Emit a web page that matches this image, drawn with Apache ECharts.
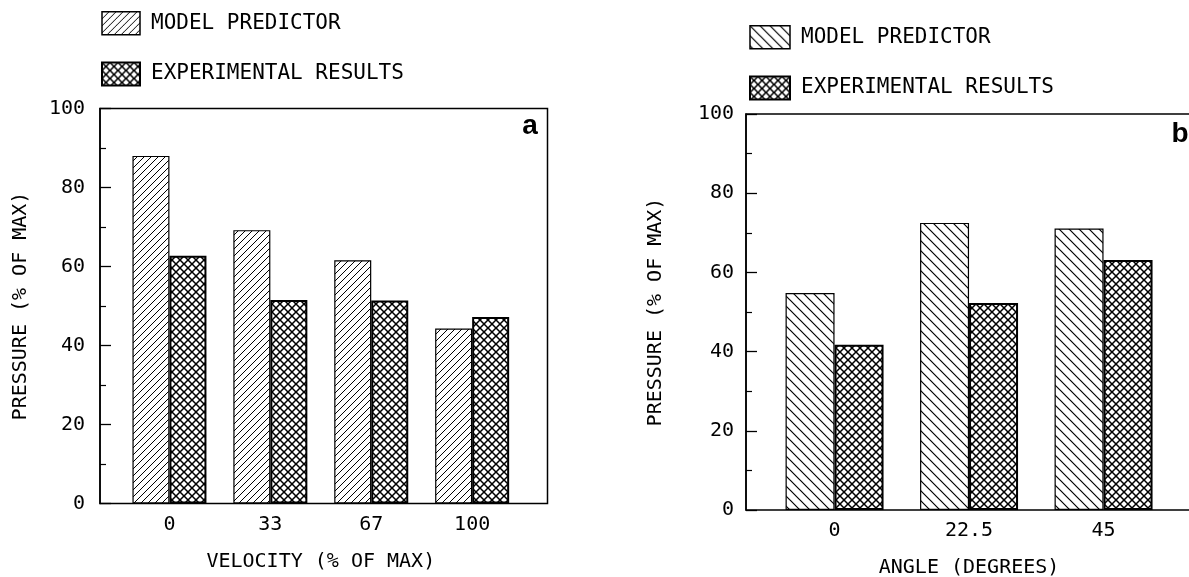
<!DOCTYPE html>
<html>
<head>
<meta charset="utf-8">
<script src="https://cdn.jsdelivr.net/npm/echarts@6.0.0/dist/echarts.min.js"></script>
<style>
html,body{margin:0;padding:0;background:#fff;}
#chart{width:1189px;height:577px;}
</style>
</head>
<body>
<div id="chart"></div>
<script>
// ---- data ----
const seriesNames = ['MODEL PREDICTOR', 'EXPERIMENTAL RESULTS'];
const categoriesA = ['0', '33', '67', '100'];
const modelA = [88.0, 69.2, 61.6, 44.3];
const expA = [62.7, 51.5, 51.4, 47.2];
const categoriesB = ['0', '22.5', '45'];
const modelB = [54.8, 72.5, 71.1];
const expB = [41.7, 52.3, 63.1];
const yMin = 0, yMax = 100, yStep = 20;
const xTitleA = 'VELOCITY (% OF MAX)';
const xTitleB = 'ANGLE (DEGREES)';
const yTitle = 'PRESSURE (% OF MAX)';
const panelLabels = ['a', 'b'];

// ---- hatch patterns ----
function hatch(size, dirs, lw) {
  const c = document.createElement('canvas');
  c.width = size; c.height = size;
  const g = c.getContext('2d');
  g.fillStyle = '#fff'; g.fillRect(0, 0, size, size);
  g.strokeStyle = '#000'; g.lineWidth = lw; g.lineCap = 'square';
  dirs.forEach(function (d) {
    g.beginPath();
    if (d === '/') {
      g.moveTo(-1, size + 1); g.lineTo(size + 1, -1);
      g.moveTo(-1, 1); g.lineTo(1, -1);
      g.moveTo(size - 1, size + 1); g.lineTo(size + 1, size - 1);
    } else {
      g.moveTo(-1, -1); g.lineTo(size + 1, size + 1);
      g.moveTo(size - 1, -1); g.lineTo(size + 1, 1);
      g.moveTo(-1, size - 1); g.lineTo(1, size + 1);
    }
    g.stroke();
  });
  return { image: c, repeat: 'repeat' };
}
const patModelA = hatch(7, ['/'], 1);
const patModelB = hatch(10, ['\\'], 1.2);
const patExp = hatch(8, ['/', '\\'], 1.5);

const MONO = "'DejaVu Sans Mono', monospace";
const black = '#000';

function frameYAxis(gridIndex, nameGap, labelMargin) {
  return {
    type: 'value', gridIndex: gridIndex, min: yMin, max: yMax, interval: yStep,
    name: yTitle, nameLocation: 'middle', nameGap: nameGap, nameRotate: 90,
    nameTextStyle: { fontFamily: MONO, fontSize: 20, color: black },
    axisLine: { show: true, lineStyle: { color: black, width: 1.5 } },
    axisTick: { show: true, inside: true, length: 11, lineStyle: { color: black, width: 1.3 } },
    minorTick: { show: true, splitNumber: 2, length: 6, lineStyle: { color: black, width: 1.2 } },
    axisLabel: { fontFamily: MONO, fontSize: 20, color: black, margin: labelMargin },
    splitLine: { show: false }
  };
}
function barYAxis(gridIndex) {
  return { type: 'value', gridIndex: gridIndex, min: yMin, max: yMax, interval: yStep, show: false };
}
function catXAxis(gridIndex, cats, title) {
  return {
    type: 'category', gridIndex: gridIndex, data: cats,
    name: title, nameLocation: 'middle', nameGap: 48,
    nameTextStyle: { fontFamily: MONO, fontSize: 20, color: black },
    axisLine: { show: false }, axisTick: { show: false },
    axisLabel: { fontFamily: MONO, fontSize: 20, color: black, margin: 11 },
    splitLine: { show: false }
  };
}
function hiddenX(gridIndex) {
  return { type: 'value', gridIndex: gridIndex, min: 0, max: 1, show: false };
}
function legendFor(left, top, w, modelPat) {
  return {
    orient: 'vertical', left: left, top: top, padding: 0,
    itemWidth: w, itemHeight: 23, itemGap: 26, icon: 'rect',
    selectedMode: false,
    textStyle: { fontFamily: MONO, fontSize: 21, color: black, padding: [0, 0, 0, 6] },
    data: [
      { name: seriesNames[0], itemStyle: { color: modelPat, borderColor: black, borderWidth: 1.5 } },
      { name: seriesNames[1], itemStyle: { color: patExp, borderColor: black, borderWidth: 2 } }
    ]
  };
}
function grid(left, top, width, height, frame) {
  const g = { left: left, top: top, width: width, height: height, outerBoundsMode: 'none', containLabel: false };
  if (frame) {
    g.show = true; g.borderColor = black; g.borderWidth = 1.5; g.backgroundColor = 'transparent';
  }
  return g;
}

const option = {
  backgroundColor: '#fff',
  animation: false,
  legend: [
    legendFor(101, 11, 38, patModelA),
    legendFor(749, 25, 40, patModelB)
  ],
  grid: [
    grid(119, 108.5, 403.6, 395, false),
    grid(100, 108.5, 447.5, 395, true),
    grid(767.3, 114, 403.5, 396, false),
    grid(746, 114, 448, 396, true)
  ],
  xAxis: [
    catXAxis(0, categoriesA, xTitleA),
    hiddenX(1),
    catXAxis(2, categoriesB, xTitleB),
    hiddenX(3)
  ],
  yAxis: [
    barYAxis(0),
    frameYAxis(1, 69, 15),
    barYAxis(2),
    frameYAxis(3, 80, 12)
  ],
  graphic: [
    { type: 'text', x: 530, y: 126.5, style: { text: panelLabels[0], fontFamily: "'Liberation Sans', Arial, sans-serif", fontWeight: 'bold', fontSize: 28, fill: black, align: 'center', verticalAlign: 'middle' } },
    { type: 'text', x: 1180, y: 134, style: { text: panelLabels[1], fontFamily: "'Liberation Sans', Arial, sans-serif", fontWeight: 'bold', fontSize: 28, fill: black, align: 'center', verticalAlign: 'middle' } }
  ],
  series: [
    { name: seriesNames[0], type: 'bar', xAxisIndex: 0, yAxisIndex: 0, data: modelA, barWidth: 37, barGap: '0%',
      itemStyle: { color: patModelA, borderColor: black, borderWidth: 1.2 } },
    { name: seriesNames[1], type: 'bar', xAxisIndex: 0, yAxisIndex: 0, data: expA, barWidth: 37, barGap: '0%',
      itemStyle: { color: patExp, borderColor: black, borderWidth: 2 } },
    { name: seriesNames[0], type: 'bar', xAxisIndex: 2, yAxisIndex: 2, data: modelB, barWidth: 49, barGap: '0%',
      itemStyle: { color: patModelB, borderColor: black, borderWidth: 1.2 } },
    { name: seriesNames[1], type: 'bar', xAxisIndex: 2, yAxisIndex: 2, data: expB, barWidth: 49, barGap: '0%',
      itemStyle: { color: patExp, borderColor: black, borderWidth: 2 } }
  ]
};

const chart = echarts.init(document.getElementById('chart'), null, { renderer: 'canvas' });
chart.setOption(option);
</script>
</body>
</html>
